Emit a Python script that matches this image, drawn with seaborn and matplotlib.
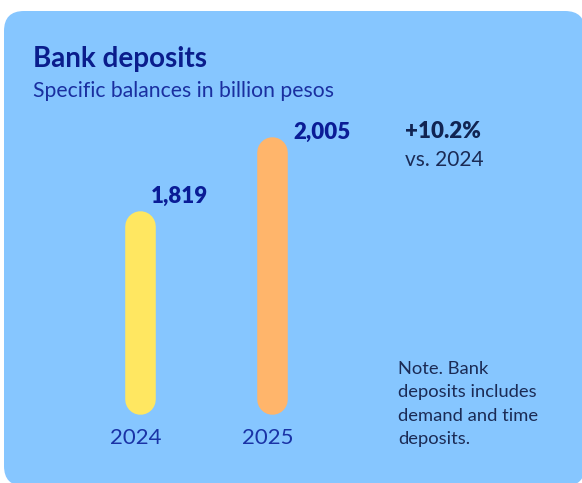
import matplotlib
matplotlib.use("Agg")
import matplotlib.pyplot as plt
import seaborn as sns
import pandas as pd
from matplotlib.patches import FancyBboxPatch
import matplotlib.transforms as mtransforms

# ---- data ----
YEARS = ["2024", "2025"]
VALUES = [1819, 2005]
VALUE_LABELS = ["1,819", "2,005"]
COLORS = ["#FFE761", "#FFB56B"]
TITLE = "Bank deposits"
SUBTITLE = "Specific balances in billion pesos"
CHANGE = "+10.2%"
CHANGE_SUB = "vs. 2024"
NOTE = ["Note. Bank", "deposits includes", "demand and time", "deposits."]
AXIS_MIN = 1385

sns.set_theme(style="white")
plt.rcParams["font.family"] = ["Lato", "DejaVu Sans"]

W, H = 582, 483
fig = plt.figure(figsize=(W / 100, H / 100), dpi=100)
fig.patch.set_facecolor("white")

BG = "#86C6FF"
card = FancyBboxPatch((4, -3), 581, 475, boxstyle="round,pad=0,rounding_size=20",
                      transform=None, facecolor=BG, edgecolor="none", zorder=-5)
fig.patches.append(card)

def px(x, y):
    return x / W, 1 - y / H

# axes placement (pixels)
ax_left, ax_right = 74.25, 337.25
ax_top, ax_bottom = 137, 399
ax = fig.add_axes([ax_left / W, 1 - ax_bottom / H, (ax_right - ax_left) / W, (ax_bottom - ax_top) / H])
ax.set_facecolor("none")
ax.set_zorder(2)

rows = []
for i, (yr, v) in enumerate(zip(YEARS, VALUES)):
    rows.append({"x": i, "y": AXIS_MIN, "year": yr})
    rows.append({"x": i, "y": v, "year": yr})
df = pd.DataFrame(rows)

sns.lineplot(data=df, x="x", y="y", hue="year", palette=COLORS, units="year",
             estimator=None, linewidth=22, legend=False, ax=ax, sort=False)
for ln in ax.lines:
    ln.set_solid_capstyle("round")
    ln.set_clip_on(False)

ax.set_xlim(-0.5, 1.5)
ax.set_ylim(AXIS_MIN, 2043)
ax.set_xlabel("")
ax.set_ylabel("")
ax.set_yticks([])
ax.set_xticks(range(len(YEARS)))
ax.set_xticklabels(YEARS, fontsize=16, color="#1A33A6")
ax.tick_params(axis="x", length=0, pad=21)
off = mtransforms.ScaledTranslation(-4 / 100, 0, fig.dpi_scale_trans)
for lab in ax.get_xticklabels():
    lab.set_transform(lab.get_transform() + off)
for s in ax.spines.values():
    s.set_visible(False)

# value labels
label_offsets = [(10.4, 23.7), (22.3, 13.7)]  # pixels
for i, (v, lab) in enumerate(zip(VALUES, VALUE_LABELS)):
    dx, dy = label_offsets[i]
    ax.annotate(lab, xy=(i, v), xytext=(dx * 0.72, dy * 0.72), textcoords="offset points",
                ha="left", va="baseline", fontsize=16, fontweight="heavy", color="#0A1C96",
                annotation_clip=False)

# titles
fig.text(*px(33, 66.7), TITLE, fontsize=20, fontweight="bold", color="#0A1D8C", va="baseline", ha="left")
fig.text(*px(33, 96.7), SUBTITLE, fontsize=15.2, color="#1A2FA0", va="baseline", ha="left")

# change
fig.text(*px(405, 138.5), CHANGE, fontsize=16, fontweight="heavy", color="#112452", va="baseline", ha="left")
fig.text(*px(405, 166), CHANGE_SUB, fontsize=15, color="#1B2B55", va="baseline", ha="left")

# note
for k, line in enumerate(NOTE):
    fig.text(*px(398, 374 + k * 23.4), line, fontsize=13.2, color="#1B2B55", va="baseline", ha="left")

fig.savefig("out.png", dpi=100)
